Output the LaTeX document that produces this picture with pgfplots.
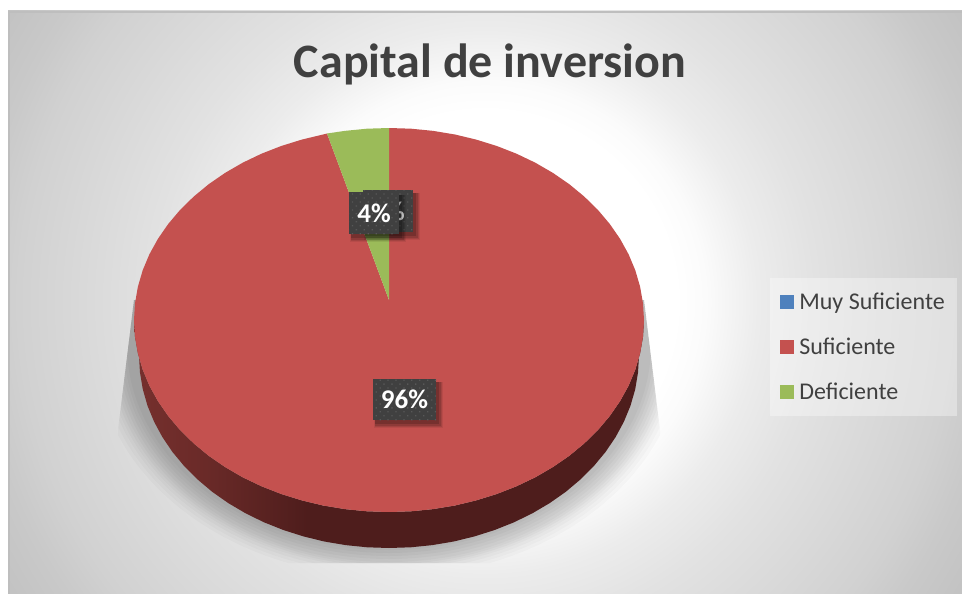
\documentclass[border=0pt]{standalone}
\usepackage{fontspec}
\setmainfont{Carlito}
\usepackage{pgfplots}
\pgfplotsset{compat=1.18}
\usepackage{pgfplotstable}
\usetikzlibrary{patterns.meta}

\definecolor{muyc}{HTML}{4F81BD}
\definecolor{sufc}{HTML}{C4514F}
\definecolor{defc}{HTML}{9BBB59}
\definecolor{txtc}{HTML}{404040}
\definecolor{boxc}{HTML}{404040}
\definecolor{dotc}{HTML}{585858}
\definecolor{wall0}{HTML}{9A4240}
\definecolor{wall1}{HTML}{8A3A38}
\definecolor{wall2}{HTML}{6A2A28}
\definecolor{wall3}{HTML}{4E1D1C}
\definecolor{bg0}{HTML}{FBFBFB}
\definecolor{bg1}{HTML}{ECECEC}
\definecolor{bg2}{HTML}{E2E2E2}
\definecolor{bg3}{HTML}{DBDBDB}
\definecolor{bg4}{HTML}{D1D1D1}
\definecolor{bg5}{HTML}{C9C9C9}
\definecolor{bg6}{HTML}{C2C2C2}
\definecolor{marco}{HTML}{BEBEBE}

% radii are picture pixels, the shading is used at its own size
\pgfdeclareradialshading{chartbg}{\pgfpoint{0bp}{0bp}}{
  color(0bp)=(white); color(190bp)=(white); color(220bp)=(bg0);
  color(272bp)=(bg1); color(330bp)=(bg2); color(385bp)=(bg3);
  color(465bp)=(bg4); color(507bp)=(bg5); color(560bp)=(bg6); color(640bp)=(bg6)}
\pgfdeclarehorizontalshading{wallshade}{100bp}{
  color(0bp)=(wall0); color(13bp)=(wall1); color(32bp)=(wall2);
  color(42bp)=(wall3); color(100bp)=(wall3)}

% slices of the top face, in picture pixels (96 %, 4 %, 0 %)
\pgfplotstableread{
x y
389 300
389 128
411.2 128.7
433.3 130.9
455.0 134.5
476.2 139.6
496.8 146.0
516.5 153.7
535.3 162.7
552.9 172.9
569.3 184.2
584.3 196.6
597.9 209.9
609.8 224.0
620.1 238.9
628.6 254.3
635.3 270.3
640.1 286.7
643.0 303.3
644 320
643.0 336.7
640.1 353.3
635.3 369.7
628.6 385.7
620.1 401.1
609.8 416.0
597.9 430.1
584.3 443.4
569.3 455.8
552.9 467.1
535.3 477.3
516.5 486.3
496.8 494.0
476.2 500.4
455.0 505.5
433.3 509.1
411.2 511.3
389 512
366.8 511.3
344.7 509.1
323.0 505.5
301.8 500.4
281.2 494.0
261.5 486.3
242.7 477.3
225.1 467.1
208.7 455.8
193.7 443.4
180.1 430.1
168.2 416.0
157.9 401.1
149.4 385.7
142.7 369.7
137.9 353.3
135.0 336.7
134 320
135.0 303.3
137.9 286.7
142.7 270.3
149.4 254.3
157.9 238.9
168.2 224.0
180.1 209.9
193.7 196.6
208.7 184.2
225.1 172.9
242.7 162.7
261.5 153.7
281.2 146.0
301.8 139.6
323.0 134.5
327 133.5
}\suficiente

\pgfplotstableread{
x y
389 300
327 133.5
344.7 130.9
366.8 128.7
389 128
}\deficiente

\pgfplotstableread{
x y
389 300
389 128
}\muysuf

% side wall of the disc
\pgfplotstableread{
x y
644 320
643.0 336.7
640.1 353.3
635.3 369.7
628.6 385.7
620.1 401.1
609.8 416.0
597.9 430.1
584.3 443.4
569.3 455.8
552.9 467.1
535.3 477.3
516.5 486.3
496.8 494.0
476.2 500.4
455.0 505.5
433.3 509.1
411.2 511.3
389 512
366.8 511.3
344.7 509.1
323.0 505.5
301.8 500.4
281.2 494.0
261.5 486.3
242.7 477.3
225.1 467.1
208.7 455.8
193.7 443.4
180.1 430.1
168.2 416.0
157.9 401.1
149.4 385.7
142.7 369.7
137.9 353.3
135.0 336.7
134 320
139 356
140 372.7
142.8 389.3
147.5 405.7
154.1 421.7
162.4 437.1
172.5 452
184.2 466.1
197.5 479.4
212.2 491.8
228.3 503.1
245.6 513.3
264 522.3
283.3 530
303.5 536.4
324.3 541.5
345.6 545.1
367.2 547.3
389 548
410.8 547.3
432.4 545.1
453.7 541.5
474.5 536.4
494.7 530
514 522.3
532.4 513.3
549.7 503.1
565.8 491.8
580.5 479.4
593.8 466.1
605.5 452
615.6 437.1
623.9 421.7
630.5 405.7
635.2 389.3
638 372.7
639 356
}\pared

% dark label box with dots and a soft shadow
\newcommand{\etiqueta}[5]{%
  \fill[black,opacity=.07] (axis cs:#1+1,#2+3) rectangle (axis cs:#3+7,#4+8);
  \fill[black,opacity=.10] (axis cs:#1+2,#2+3) rectangle (axis cs:#3+6,#4+7);
  \fill[black,opacity=.13] (axis cs:#1+2,#2+3) rectangle (axis cs:#3+5,#4+6);
  \fill[black,opacity=.16] (axis cs:#1+2,#2+3) rectangle (axis cs:#3+3,#4+4);
  \fill[boxc] (axis cs:#1,#2) rectangle (axis cs:#3,#4);
  \fill[pattern={Dots[radius=.9pt,distance=5.6pt,angle=45]},pattern color=dotc]
    (axis cs:#1,#2) rectangle (axis cs:#3,#4);
  \node[text=white,font=\fontsize{27}{30}\selectfont\bfseries,inner sep=0pt]
    at (axis cs:{(#1+#3)/2},{(#2+#4)/2}) {#5};
}

\begin{document}
\begin{tikzpicture}
\begin{axis}[
    scale only axis,
    width=962pt, height=594pt,
    xmin=0, xmax=962, ymin=0, ymax=594,
    y dir=reverse,
    hide axis,
    clip=false,
    legend cell align=left,
    legend image code/.code={\fill[#1,fill opacity=1] (-2pt,-7pt) rectangle (12pt,7pt);},
    legend style={
        at={(axis cs:957,278)}, anchor=north east,
        draw=none, fill=white, fill opacity=.35, text opacity=1,
        text=txtc, font=\fontsize{24}{26}\selectfont,
        inner xsep=10pt, inner ysep=13pt,
        row sep=23pt,
        /tikz/every odd column/.append style={column sep=3pt},
    },
]
% chart area
\fill[white] (axis cs:0,0) rectangle (axis cs:962,594);
\begin{scope}
  \clip (axis cs:8,11) rectangle (axis cs:962,594);
  \node[overlay,inner sep=0pt,anchor=center] at (axis cs:485,302) {\pgfuseshading{chartbg}};
  \draw[color=marco,line width=2pt] (axis cs:9,594) -- (axis cs:9,12) -- (axis cs:962,12);
\end{scope}

% shadow under the disc
\begin{scope}
  \clip (axis cs:134,300) -- (axis cs:118,430) -- (axis cs:118,563)
     -- (axis cs:660,563) -- (axis cs:660,430) -- (axis cs:644,300) -- cycle;
  \fill[black,opacity=.02] (axis cs:389,345) ellipse [x radius=294pt, y radius=232pt];
  \fill[black,opacity=.02] (axis cs:389,345) ellipse [x radius=290pt, y radius=229pt];
  \fill[black,opacity=.025] (axis cs:389,345) ellipse [x radius=286pt, y radius=226pt];
  \fill[black,opacity=.025] (axis cs:389,345) ellipse [x radius=283pt, y radius=223pt];
  \fill[black,opacity=.028] (axis cs:389,345) ellipse [x radius=280pt, y radius=221pt];
  \fill[black,opacity=.028] (axis cs:389,345) ellipse [x radius=277pt, y radius=219pt];
  \fill[black,opacity=.028] (axis cs:389,345) ellipse [x radius=274pt, y radius=217pt];
  \fill[black,opacity=.028] (axis cs:389,345) ellipse [x radius=271pt, y radius=214pt];
  \fill[black,opacity=.028] (axis cs:389,345) ellipse [x radius=268pt, y radius=211pt];
  \fill[black,opacity=.028] (axis cs:389,345) ellipse [x radius=265pt, y radius=208pt];
  \fill[black,opacity=.028] (axis cs:389,345) ellipse [x radius=262pt, y radius=205pt];
\end{scope}

\addplot[forget plot, draw=none, shading=wallshade] table {\pared} -- cycle;

\addplot[draw=none, fill=muyc] table {\muysuf} -- cycle;
\addlegendentry{Muy Suficiente}
\addplot[draw=none, fill=sufc] table {\suficiente} -- cycle;
\addlegendentry{Suficiente}
\addplot[draw=none, fill=defc] table {\deficiente} -- cycle;
\addlegendentry{Deficiente}

\node[text=txtc,font=\fontsize{48}{50}\selectfont\bfseries] at (axis cs:490,64) {Capital de inversion};

\etiqueta{363}{190}{413}{232}{0\%}
\etiqueta{349}{192}{399}{234}{4\%}
\etiqueta{373}{379}{436}{420}{96\%}
\end{axis}
\end{tikzpicture}
\end{document}
